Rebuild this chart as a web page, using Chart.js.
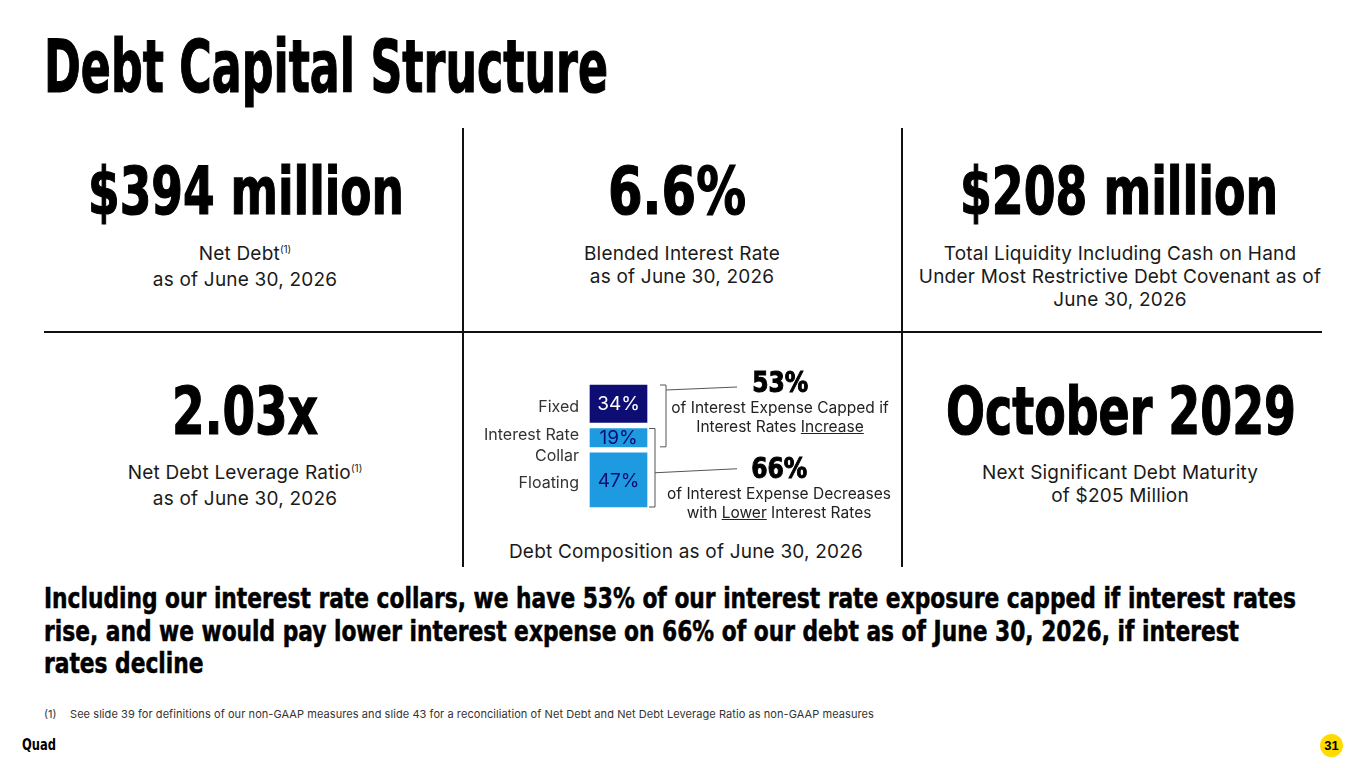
<!DOCTYPE html>
<html>
<head>
<meta charset="utf-8">
<script src="https://cdn.jsdelivr.net/npm/chart.js@4.4.1/dist/chart.umd.min.js"></script>
<style>
  html, body { margin:0; padding:0; background:#fff; }
  body { width:1365px; height:768px; position:relative; overflow:hidden; font-family:"Inter","Noto Sans",sans-serif; color:#1a1a1a; }
  .c { position:absolute; font-family:"Liberation Sans Narrow","DejaVu Sans Condensed","Liberation Sans",sans-serif; font-weight:700; line-height:1; color:#000; white-space:nowrap; }
  .c span, .big span { display:inline-block; transform-origin:0 0; }
  .heavy span { -webkit-text-stroke:1.2px #000; }
  .mid span { -webkit-text-stroke:0.5px #000; }
  .b { position:absolute; width:440px; text-align:center; font-size:19px; letter-spacing:0.2px; line-height:23px; color:#1a1a1a; }
  .s { position:absolute; text-align:center; font-size:15.5px; line-height:18.8px; color:#222; white-space:nowrap; }
  .big { font-family:"Liberation Sans Narrow","DejaVu Sans Condensed","Liberation Sans",sans-serif; font-weight:700; color:#000; }
  .big span { transform-origin:50% 0; -webkit-text-stroke:1px #000; }
  sup { font-size:10px; vertical-align:0; position:relative; top:-7px; letter-spacing:0; }
  .hl { position:absolute; background:#111; }
</style>
</head>
<body>
<div class="c heavy" style="left:44px;top:30px;font-size:73px" data-w="564"><span>Debt Capital Structure</span></div>

<div class="hl" style="left:44px;top:331px;width:1278px;height:2px"></div>
<div class="hl" style="left:462px;top:128px;width:2px;height:439px"></div>
<div class="hl" style="left:901px;top:128px;width:2px;height:439px"></div>

<div class="c heavy" style="left:88px;top:159px;font-size:66px" data-w="316"><span>$394 million</span></div>
<div class="c heavy" style="left:608px;top:159px;font-size:66px" data-w="138"><span>6.6%</span></div>
<div class="c heavy" style="left:960px;top:159px;font-size:66px" data-w="318"><span>$208 million</span></div>
<div class="c heavy" style="left:172px;top:379px;font-size:66px" data-w="146"><span>2.03x</span></div>
<div class="c heavy" style="left:946px;top:379px;font-size:66px" data-w="350"><span>October 2029</span></div>

<div class="b" style="left:25px;top:242px">Net Debt<sup>(1)</sup><br>as of June 30, 2026</div>
<div class="b" style="left:462px;top:242px">Blended Interest Rate<br>as of June 30, 2026</div>
<div class="b" style="left:900px;top:242px">Total Liquidity Including Cash on Hand<br>Under Most Restrictive Debt Covenant as of<br>June 30, 2026</div>
<div class="b" style="left:25px;top:461px">Net Debt Leverage Ratio<sup>(1)</sup><br>as of June 30, 2026</div>
<div class="b" style="left:900px;top:461px">Next Significant Debt Maturity<br>of $205 Million</div>
<div class="b" style="left:466px;top:540px">Debt Composition as of June 30, 2026</div>

<canvas id="bar" width="450" height="180" style="position:absolute;left:470px;top:360px;width:450px;height:180px"></canvas>

<div class="s" style="left:630px;top:365px;width:300px">
  <div class="big" style="font-size:29px;line-height:34px" data-w="56"><span>53%</span></div>
  of Interest Expense Capped if<br>Interest Rates <u>Increase</u>
</div>
<div class="s" style="left:629px;top:451px;width:300px">
  <div class="big" style="font-size:29px;line-height:34px" data-w="56"><span>66%</span></div>
  of Interest Expense Decreases<br>with <u>Lower</u> Interest Rates
</div>

<div class="c mid" style="left:44px;top:582px;font-size:27.5px;line-height:32.5px" data-w="1252"><span>Including our interest rate collars, we have 53% of our interest rate exposure capped if interest rates<br>rise, and we would pay lower interest expense on 66% of our debt as of June 30, 2026, if interest<br>rates decline</span></div>

<div style="position:absolute;left:44px;top:709px;font-size:11px;line-height:1;color:#333">(1)</div>
<div style="position:absolute;left:70px;top:709px;font-size:11px;line-height:1;letter-spacing:0.07px;color:#333;white-space:nowrap">See slide 39 for definitions of our non-GAAP measures and slide 43 for a reconciliation of Net Debt and Net Debt Leverage Ratio as non-GAAP measures</div>

<div class="c" style="left:22px;top:738px;font-size:15px" data-w="34"><span>Quad</span></div>
<div style="position:absolute;left:1320px;top:734px;width:23px;height:23px;border-radius:50%;background:#ffdb00;font-family:'Liberation Sans Narrow','Liberation Sans',sans-serif;font-weight:700;font-size:13px;line-height:23px;text-align:center;color:#000">31</div>

<script>
// ---- data ----
const categories = ['Fixed', 'Interest Rate Collar', 'Floating'];
const categoryLines = [['Fixed'], ['Interest Rate', 'Collar'], ['Floating']];
const shares = [34, 19, 47];
const segmentColors = ['#0d0d73', '#1e9be0', '#1e9be0'];
const labelColors = ['#ffffff', '#0d0d73', '#0d0d73'];
const cappedRange = [0, 53];      // Fixed + Collar  -> 53%
const floatingRange = [34, 100];  // Collar + Floating -> 66%

function fitAll() {
  document.querySelectorAll('[data-w]').forEach(el => {
    const sp = el.querySelector('span');
    sp.style.transform = 'none';
    const w = sp.getBoundingClientRect().width;
    const t = parseFloat(el.dataset.w);
    if (w > 0) sp.style.transform = 'scaleX(' + (t / w) + ')';
  });
}
fitAll();
if (document.fonts && document.fonts.ready) document.fonts.ready.then(fitAll);

const barLabels = {
  id: 'barLabels',
  afterDatasetsDraw(chart) {
    const ctx = chart.ctx;
    const ys = chart.scales.y;
    const area = chart.chartArea;
    ctx.save();
    chart.data.datasets.forEach((ds, i) => {
      const el = chart.getDatasetMeta(i).data[0];
      const cy = (el.y + el.base) / 2;
      ctx.font = '19px Inter, "Noto Sans", sans-serif';
      ctx.fillStyle = labelColors[i];
      ctx.textAlign = 'center';
      ctx.textBaseline = 'middle';
      ctx.fillText(ds.data[0] + '%', el.x, cy + 1);
      // category label on the left
      ctx.font = '16px Inter, "Noto Sans", sans-serif';
      ctx.fillStyle = '#333';
      ctx.textAlign = 'right';
      const lines = categoryLines[i];
      const off = lines.length > 1 ? 8 : 3;
      lines.forEach((ln, k) => {
        ctx.fillText(ln, area.left - 8, cy + off + (k - (lines.length - 1) / 2) * 21);
      });
    });
    // brackets
    ctx.strokeStyle = '#555';
    ctx.lineWidth = 1;
    function bracket(range, bx, leadDy0, leadDy1, useMid) {
      const top = ys.getPixelForValue(range[0]) + 3;
      const bot = ys.getPixelForValue(range[1]) - 3;
      ctx.beginPath();
      ctx.moveTo(bx - 6, top); ctx.lineTo(bx, top); ctx.lineTo(bx, bot); ctx.lineTo(bx - 6, bot);
      ctx.stroke();
      const y0 = useMid ? (top + bot) / 2 : top;
      ctx.beginPath();
      ctx.moveTo(bx, y0 + leadDy0);
      ctx.lineTo(area.right + 87, y0 + leadDy1);
      ctx.stroke();
    }
    bracket(cappedRange, area.right + 16, 5, 2, false);
    bracket(floatingRange, area.right + 5, 5, 1, true);
    ctx.restore();
  }
};

new Chart(document.getElementById('bar'), {
  type: 'bar',
  data: {
    labels: ['Debt'],
    datasets: categories.map((c, i) => ({
      label: c,
      data: [shares[i]],
      backgroundColor: segmentColors[i],
      borderColor: '#ffffff',
      borderWidth: 3,
      borderSkipped: false,
      stack: 'debt'
    }))
  },
  options: {
    responsive: false,
    animation: false,
    devicePixelRatio: 1,
    layout: { padding: { left: 117, right: 270, top: 22, bottom: 30 } },
    plugins: { legend: { display: false }, tooltip: { enabled: false } },
    datasets: { bar: { barPercentage: 1, categoryPercentage: 1 } },
    scales: {
      x: { display: false, stacked: true },
      y: { display: false, stacked: true, reverse: true, min: 0, max: 100 }
    }
  },
  plugins: [barLabels]
});
</script>
</body>
</html>
